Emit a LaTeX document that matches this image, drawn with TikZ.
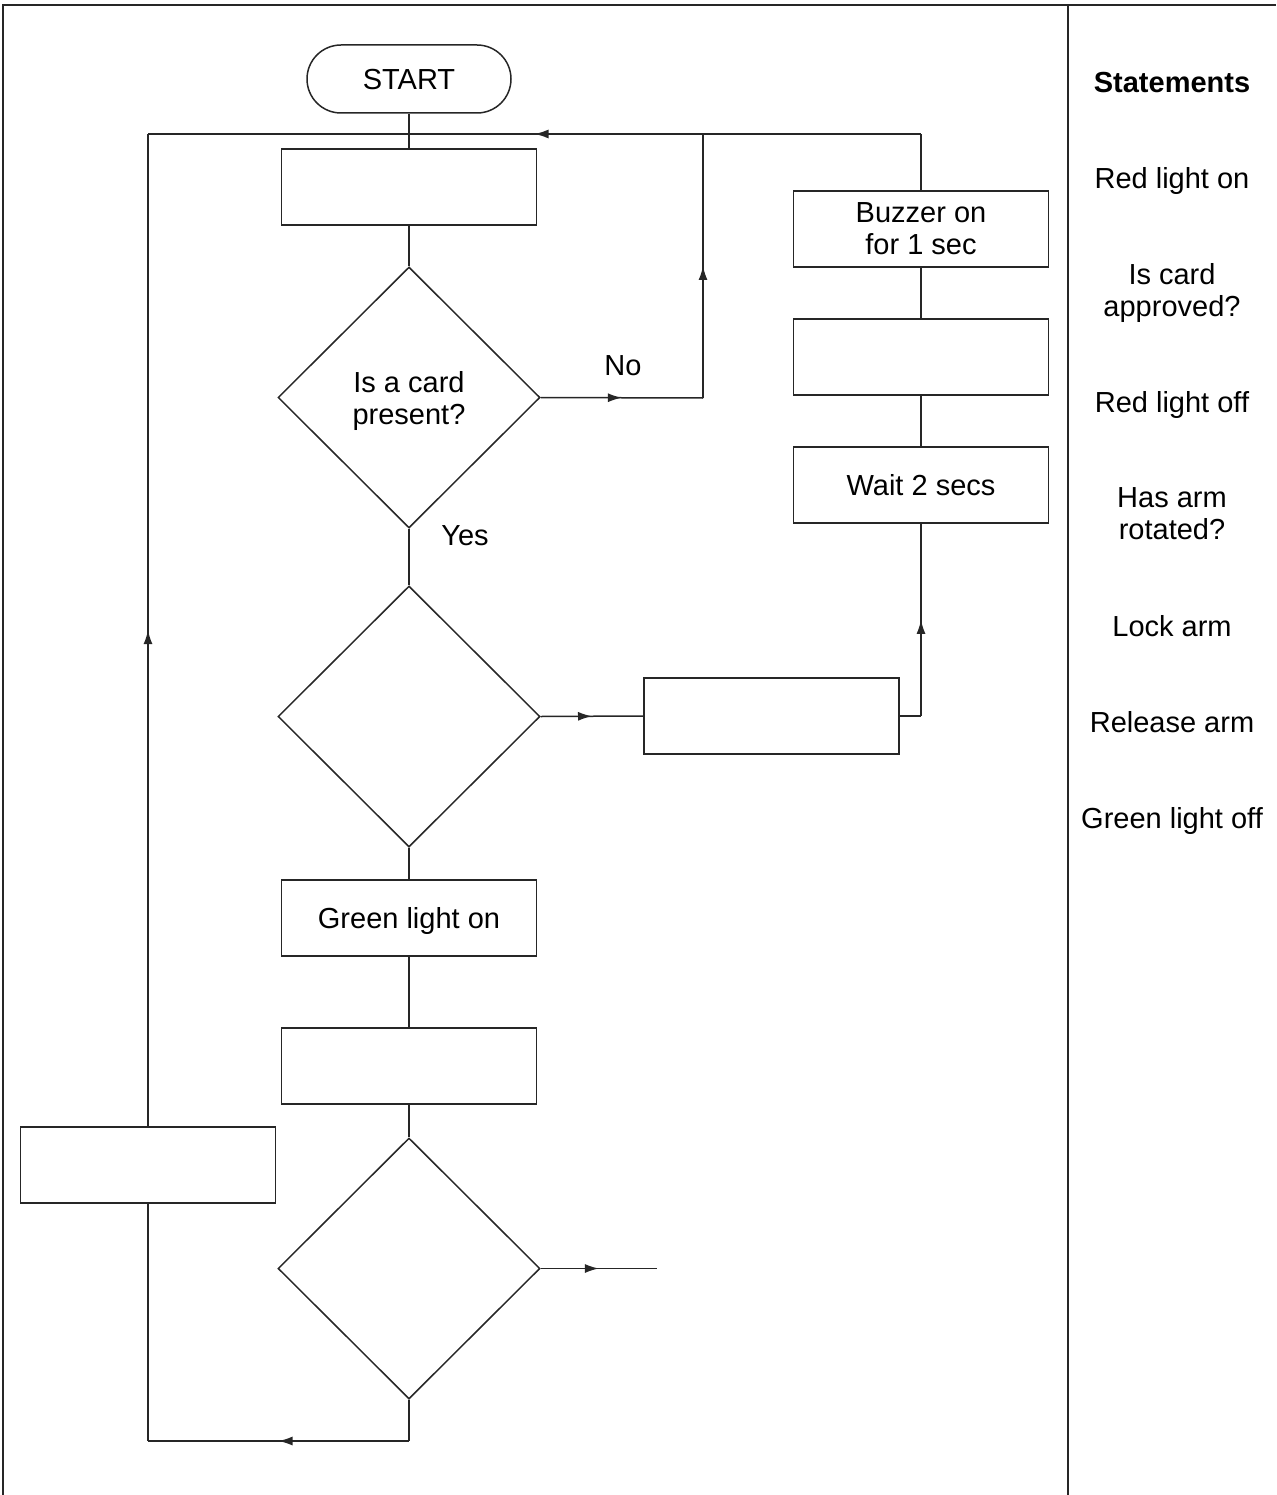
\documentclass[tikz,border=0pt]{standalone}
\usepackage{fontspec}
\setmainfont{Liberation Sans}
\usetikzlibrary{shapes.geometric,arrows.meta,decorations.markings}
\begin{document}
\begin{tikzpicture}[x=1pt,y=-1pt,
  txt/.style={font=\fontsize{29}{32}\selectfont, text depth=0pt},
  line/.style={line width=1.5pt, draw=black!85},
  box/.style={txt, draw=black!85, line width=1.5pt, minimum width=255pt, minimum height=76pt, inner sep=0pt, align=center},
  dec/.style={txt, draw=black!85, diamond, aspect=1, line width=1.5pt, minimum width=262pt, minimum height=261pt, inner sep=0pt, align=center},
  term/.style={txt, draw=black!85, rounded corners=34pt, minimum width=204pt, minimum height=68pt, line width=1.5pt, inner sep=0pt},
  midarrow/.style={postaction={decorate}, decoration={markings, mark=at position 0.5 with {\arrow{Latex[length=14pt,width=9pt]}}}}
]
\useasboundingbox (0,0) rectangle (1276,1495);
% frame
\draw[line] (3,1495) -- (3,5) -- (1276,5);
\draw[line] (1068,5) -- (1068,1495);

% nodes
\node[term] (start) at (409,79) {START};
\node[box] (b1) at (409,187) {};
\node[dec] (d1) at (409,397.5) {Is a card\\present?};
\node[dec] (d2) at (409,716.5) {};
\node[box] (green) at (409,918) {Green light on};
\node[box] (b2) at (409,1066) {};
\node[dec] (d3) at (409,1268.5) {};
\node[box] (left) at (148,1165) {};
\node[box] (mid) at (771.5,716) {};
\node[box] (wait) at (921,485) {Wait 2 secs};
\node[box] (b3) at (921,357) {};
\node[box] (buzz) at (921,229) {Buzzer on\\for 1 sec};

\node[txt] (no) at (623,366) {No};
\node[txt] (yes) at (465,536) {Yes};

% coordinates
\coordinate (tl) at (148,134);
\coordinate (tr) at (921,134);
\coordinate (tno) at (703,134);
\coordinate (nocorner) at (703,398);
\coordinate (mr) at (921,716);
\coordinate (bcorner) at (409,1441);
\coordinate (bl) at (148,1441);
\coordinate (d3end) at (657,1268.5);

% connectors
\draw[line] (start.south) -- (b1.north);
\draw[line] (b1.south) -- (d1.north);
\draw[line] (d1.south) -- (d2.north);
\draw[line] (d2.south) -- (green.north);
\draw[line] (green.south) -- (b2.north);
\draw[line] (b2.south) -- (d3.north);
\draw[line] (buzz.south) -- (b3.north);
\draw[line] (b3.south) -- (wait.north);
\draw[line] (buzz.north) -- (tr);
\draw[line,midarrow] (tr) -- (tl);
\draw[line,midarrow] (d1.east) -- (nocorner);
\draw[line,midarrow] (nocorner) -- (tno);
\draw[line,midarrow] (d2.east) -- (mid.west);
\draw[line] (mid.east) -- (mr);
\draw[line,midarrow] (mr) -- (wait.south);
\draw[line,midarrow] (d3.east) -- (d3end);
\draw[line] (d3.south) -- (bcorner);
\draw[line,midarrow] (bcorner) -- (bl);
\draw[line] (bl) -- (left.south);
\draw[line,midarrow] (left.north) -- (tl);

% statements
\node[txt, font=\fontsize{29}{32}\selectfont\bfseries] (sh) at (1172,82) {Statements};
\node[txt, align=center] (s1) at (1172,178) {Red light on};
\node[txt, align=center] (s2) at (1172,290) {Is card\\approved?};
\node[txt, align=center] (s3) at (1172,402) {Red light off};
\node[txt, align=center] (s4) at (1172,514) {Has arm\\rotated?};
\node[txt, align=center] (s5) at (1172,626) {Lock arm};
\node[txt, align=center] (s6) at (1172,722) {Release arm};
\node[txt, align=center] (s7) at (1172,818) {Green light off};
\end{tikzpicture}
\end{document}
